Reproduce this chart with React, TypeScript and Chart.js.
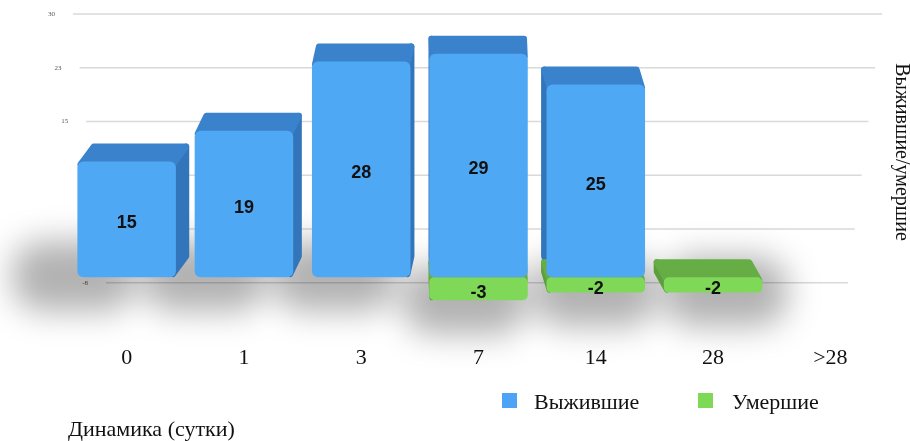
import React, { useEffect, useRef } from 'react';
import { Chart, registerables } from 'chart.js';

Chart.register(...registerables);

// ---- data ----
const categories = ['0', '1', '3', '7', '14', '28', '>28'];
const survivors: (number | null)[] = [15, 19, 28, 29, 25, null, null];
const deceased: (number | null)[] = [null, null, null, -3, -2, -2, null];
const seriesNames = ['Выжившие', 'Умершие'];
const yMin = -7.5;
const yMax = 30;
const yStep = 7.5;
const xTitle = 'Динамика (сутки)';
const yTitle = 'Выжившие/умершие';

// ---- styles ----
const FRONT = ['#4fa8f3', '#80d858'];
const TOPC = ['#3a82cc', '#66ad46'];
const SIDE = ['#3375bb', '#5c9e3e'];
const SERIF = '"Liberation Serif", "Times New Roman", serif';
const SANS = '"Liberation Sans", Arial, sans-serif';

const roundLabel = (v: number) => String(Math.sign(v) * Math.round(Math.abs(v)) || 0);

function barBox(el: any) {
  const w = el.width;
  return {
    x1: el.x - w / 2,
    x2: el.x + w / 2,
    y1: Math.min(el.y, el.base),
    y2: Math.max(el.y, el.base),
  };
}

function visibleBoxes(chart: any) {
  const out: any[] = [];
  chart.data.datasets.forEach((ds: any, di: number) => {
    const m = chart.getDatasetMeta(di);
    m.data.forEach((el: any, i: number) => {
      const v = ds.data[i];
      if (v === null || v === undefined) return;
      out.push({ ...barBox(el), di, i, el });
    });
  });
  return out;
}

const scene3d = {
  id: 'scene3d',
  beforeDatasetsDraw(chart: any) {
    const { ctx, chartArea } = chart;
    const ys = chart.scales.y;
    const { top, bottom, left, right } = chartArea;
    const h = bottom - top;
    const boxes = visibleBoxes(chart);
    ctx.save();
    // back-wall grid and tick labels
    ys.ticks.forEach((t: any) => {
      const yf = ys.getPixelForValue(t.value);
      const tt = (yf - top) / h;
      const yb = top - 32 + tt * h * 0.93;
      const xl = left + 5 + tt * 33;
      const xr = right - 7 - tt * 34;
      ctx.strokeStyle = '#d9d9d9';
      ctx.lineWidth = 1.5;
      ctx.beginPath();
      ctx.moveTo(xl, yb);
      ctx.lineTo(xr, yb);
      ctx.stroke();
      const lx = xl - 18;
      // the label sits on the back wall; skip it where a bar (seen in perspective) stands in front
      const hidden = boxes.some((b) => lx > b.x1 - 20 && lx < b.x2 && yb > b.y1 - 18 && yb < b.y2 - 2);
      if (hidden) return;
      ctx.fillStyle = '#555';
      ctx.font = `7px ${SERIF}`;
      ctx.textAlign = 'right';
      ctx.textBaseline = 'middle';
      ctx.fillText(roundLabel(t.value), lx, yb);
    });

    // soft floor shadows per stack
    categories.forEach((_, i) => {
      const bs = boxes.filter((b) => b.i === i);
      if (!bs.length) return;
      const x1 = Math.min(...bs.map((b) => b.x1));
      const x2 = Math.max(...bs.map((b) => b.x2));
      const y2 = Math.max(...bs.map((b) => b.y2));
      const cx = (x1 + x2) / 2;
      const off = (cx - 520) * 0.11;
      ctx.save();
      ctx.filter = 'blur(16px)';
      ctx.fillStyle = 'rgba(0,0,0,0.30)';
      ctx.beginPath();
      ctx.roundRect(x1 + off - 22, y2 - 36, x2 - x1 + 26, 70, 30);
      ctx.fill();
      ctx.restore();
    });

    // extruded top and side faces
    boxes.forEach((b) => {
      const { di, el } = b;
      const dx = (460 - el.x) * 0.04;
      const dy = -18;
      const bx1 = b.x1 + dx + 3;
      const bx2 = b.x2 + dx - 3;
      const by1 = b.y1 + dy;
      const by2 = b.y2 + dy;
      ctx.lineJoin = 'round';
      ctx.lineWidth = 6;
      ctx.fillStyle = SIDE[di];
      ctx.strokeStyle = SIDE[di];
      ctx.beginPath();
      if (dx >= 0) {
        ctx.moveTo(b.x2 - 3, b.y1 + 3);
        ctx.lineTo(bx2, by1 + 3);
        ctx.lineTo(bx2, by2 - 3);
        ctx.lineTo(b.x2 - 3, b.y2 - 3);
      } else {
        ctx.moveTo(b.x1 + 3, b.y1 + 3);
        ctx.lineTo(bx1, by1 + 3);
        ctx.lineTo(bx1, by2 - 3);
        ctx.lineTo(b.x1 + 3, b.y2 - 3);
      }
      ctx.closePath();
      ctx.fill();
      ctx.stroke();
      ctx.fillStyle = TOPC[di];
      ctx.strokeStyle = TOPC[di];
      ctx.beginPath();
      ctx.moveTo(b.x1 + 3, b.y1 + 3);
      ctx.lineTo(bx1, by1 + 3);
      ctx.lineTo(bx2, by1 + 3);
      ctx.lineTo(b.x2 - 3, b.y1 + 3);
      ctx.closePath();
      ctx.fill();
      ctx.stroke();
    });
    ctx.restore();
  },
  afterDatasetsDraw(chart: any) {
    const { ctx } = chart;
    ctx.save();
    ctx.font = `bold 18px ${SANS}`;
    ctx.fillStyle = '#111';
    ctx.textAlign = 'center';
    ctx.textBaseline = 'middle';
    chart.data.datasets.forEach((ds: any, di: number) => {
      const m = chart.getDatasetMeta(di);
      m.data.forEach((el: any, i: number) => {
        const v = ds.data[i];
        if (v === null || v === undefined) return;
        ctx.fillText(String(v), el.x, (el.y + el.base) / 2 + 4);
      });
    });
    ctx.restore();
  },
  afterDraw(chart: any) {
    const { ctx } = chart;
    ctx.save();
    ctx.translate(901, 152);
    ctx.rotate(Math.PI / 2);
    ctx.font = `20px ${SERIF}`;
    ctx.fillStyle = '#111';
    ctx.textAlign = 'center';
    ctx.textBaseline = 'middle';
    ctx.fillText(yTitle, 0, 0);
    ctx.restore();
  },
};

export default function App() {
  const ref = useRef<HTMLCanvasElement | null>(null);

  useEffect(() => {
    if (!ref.current) return;
    const chart = new Chart(ref.current, {
      type: 'bar',
      data: {
        labels: categories,
        datasets: [
          {
            label: seriesNames[0],
            data: survivors,
            backgroundColor: FRONT[0],
            borderRadius: 6,
            borderSkipped: false,
            barPercentage: 0.84,
            categoryPercentage: 1,
          },
          {
            label: seriesNames[1],
            data: deceased,
            backgroundColor: FRONT[1],
            borderRadius: 5,
            borderSkipped: false,
            barPercentage: 0.84,
            categoryPercentage: 1,
          },
        ],
      },
      options: {
        animation: false,
        responsive: false,
        maintainAspectRatio: false,
        layout: { padding: { top: 46, right: 21, left: 0, bottom: 0 } },
        plugins: {
          legend: { display: false },
          tooltip: { enabled: false },
        },
        scales: {
          x: {
            stacked: true,
            grid: { display: false },
            border: { display: false },
            ticks: { font: { family: SERIF, size: 22 }, color: '#111', padding: 2 },
            title: {
              display: true,
              text: xTitle,
              align: 'start',
              font: { family: SERIF, size: 22, lineHeight: 1 },
              color: '#111',
              padding: 0,
            },
            afterFit: (s: any) => {
              s.height = 106;
            },
          },
          y: {
            stacked: true,
            min: yMin,
            max: yMax,
            ticks: { stepSize: yStep, display: false },
            grid: { display: false },
            border: { display: false },
            afterFit: (s: any) => {
              s.width = 68;
            },
          },
        },
      } as any,
      plugins: [scene3d],
    });
    return () => chart.destroy();
  }, []);

  const legendText: React.CSSProperties = {
    position: 'absolute',
    top: 389,
    fontFamily: SERIF,
    fontSize: 22,
    lineHeight: '26px',
    color: '#111',
    whiteSpace: 'nowrap',
  };

  return (
    <div style={{ position: 'fixed', left: 0, top: 0, width: 910, height: 441, background: '#fff' }}>
      <canvas ref={ref} width={910} height={441} style={{ width: 910, height: 441, display: 'block' }} />
      <div style={{ position: 'absolute', left: 502, top: 393, width: 15, height: 15, background: '#4da3f5' }} />
      <div style={{ ...legendText, left: 534 }}>{seriesNames[0]}</div>
      <div style={{ position: 'absolute', left: 698, top: 393, width: 15, height: 15, background: '#7ed957' }} />
      <div style={{ ...legendText, left: 732 }}>{seriesNames[1]}</div>
    </div>
  );
}
